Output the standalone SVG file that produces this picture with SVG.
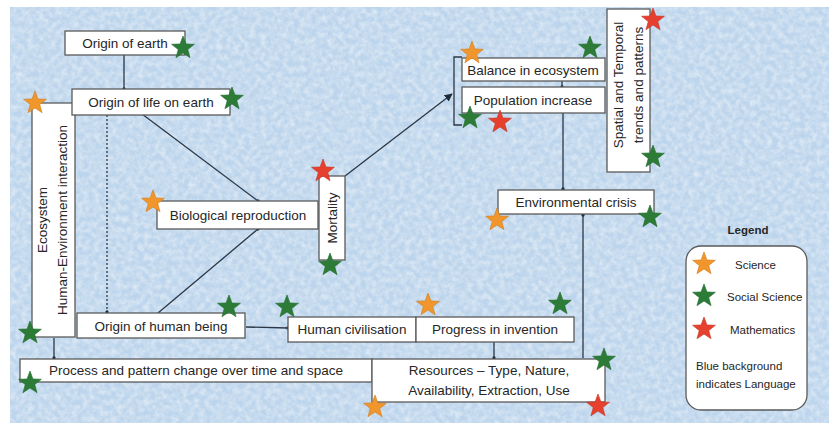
<svg xmlns="http://www.w3.org/2000/svg" width="829" height="429" viewBox="0 0 829 429">
<style>
.box{fill:#ffffff;stroke:#5a5a5a;stroke-width:1.3}
.t{font-family:"Liberation Sans",Arial,sans-serif;font-size:13.5px;fill:#262626;text-anchor:middle}
.lg{font-family:"Liberation Sans",Arial,sans-serif;font-size:11.5px;fill:#262626}
.c{fill:none;stroke:#2b3746;stroke-width:1.3}
.so{fill:#f0962c;stroke:#d27a18;stroke-width:0.6}
.sg{fill:#2c7c38;stroke:#1f6a2b;stroke-width:0.6}
.sr{fill:#e6412e;stroke:#c53020;stroke-width:0.6}
</style>
<defs>
<path id="star" d="M0,-12 L2.94,-4.05 L11.41,-3.71 L4.76,1.55 L7.05,9.71 L0,5 L-7.05,9.71 L-4.76,1.55 L-11.41,-3.71 L-2.94,-4.05 Z"/>
<marker id="dot" viewBox="-3 -3 6 6" markerWidth="4" markerHeight="4" refX="0" refY="0" markerUnits="userSpaceOnUse" orient="auto"><circle r="2.5" fill="#1e2a38"/></marker>
<marker id="arr" viewBox="0 0 10 10" refX="9" refY="5" markerWidth="8" markerHeight="8" markerUnits="userSpaceOnUse" orient="auto"><path d="M0,0 L10,5 L0,10 Z" fill="#1e2a38"/></marker>
<filter id="tex" x="0" y="0" width="100%" height="100%">
<feTurbulence type="fractalNoise" baseFrequency="0.18" numOctaves="3" seed="7"/>
<feColorMatrix type="matrix" values="0 0 0 0 1  0 0 0 0 1  0 0 0 0 1  0.9 0 0 0 -0.3"/>
</filter>
</defs>
<rect x="0" y="0" width="829" height="429" fill="#ffffff"/>
<rect x="10" y="7" width="819" height="416" fill="#bdd5ec"/>
<rect x="10" y="7" width="819" height="416" filter="url(#tex)"/>

<g id="connectors">
<line class="c" x1="124" y1="55" x2="124" y2="89" marker-end="url(#dot)"/>
<line class="c" x1="107" y1="115" x2="107" y2="312" stroke-dasharray="2 2" marker-end="url(#dot)"/>
<line class="c" x1="142" y1="114" x2="258" y2="201" marker-end="url(#dot)"/>
<line class="c" x1="158" y1="313" x2="258" y2="229" marker-end="url(#dot)"/>
<line class="c" x1="246" y1="327" x2="288" y2="328" marker-end="url(#dot)"/>
<line class="c" x1="494" y1="342" x2="494" y2="358" marker-end="url(#dot)"/>
<line class="c" x1="54" y1="338" x2="54" y2="358" marker-end="url(#dot)"/>
<line class="c" x1="583" y1="358" x2="583" y2="215" marker-end="url(#dot)"/>
<line class="c" x1="563" y1="113" x2="563" y2="189" marker-end="url(#dot)"/>
<line class="c" x1="562" y1="81" x2="562" y2="87" marker-end="url(#dot)"/>
<line class="c" x1="345" y1="176" x2="452" y2="94" marker-end="url(#arr)"/>
<path class="c" d="M462,57 H454 V125 H462"/>
</g>

<g id="vertical-ecosystem">
<rect class="box" x="32" y="103" width="43" height="234"/>
<text class="t" transform="translate(47,220) rotate(-90)">Ecosystem</text>
<text class="t" transform="translate(67,220) rotate(-90)">Human-Environment interaction</text>
</g>
<g id="origin-earth">
<rect class="box" x="65" y="31" width="120" height="24"/>
<text class="t" x="125" y="48">Origin of earth</text>
</g>
<g id="origin-life">
<rect class="box" x="72" y="89" width="158" height="26"/>
<text class="t" x="151" y="107">Origin of life on earth</text>
</g>
<g id="bio-reproduction">
<rect class="box" x="157" y="201" width="161" height="28"/>
<text class="t" x="238" y="220">Biological reproduction</text>
</g>
<g id="mortality">
<rect class="box" x="319" y="176" width="26" height="84"/>
<text class="t" transform="translate(337,218) rotate(-90)">Mortality</text>
</g>
<g id="balance">
<rect class="box" x="462" y="58" width="143" height="23"/>
<text class="t" x="533" y="75">Balance in ecosystem</text>
</g>
<g id="population">
<rect class="box" x="462" y="87" width="143" height="26"/>
<text class="t" x="533" y="105">Population increase</text>
</g>
<g id="spatial">
<rect class="box" x="607" y="9" width="43" height="163"/>
<text class="t" font-size="12.5" transform="translate(623,85) rotate(-90)">Spatial and Temporal</text>
<text class="t" font-size="12.5" transform="translate(643,85) rotate(-90)">trends and patterns</text>
</g>
<g id="env-crisis">
<rect class="box" x="498" y="190" width="156" height="24"/>
<text class="t" x="576" y="207">Environmental crisis</text>
</g>
<g id="origin-human">
<rect class="box" x="77" y="313" width="168" height="25"/>
<text class="t" x="161" y="331">Origin of human being</text>
</g>
<g id="human-civ">
<rect class="box" x="288" y="317" width="128" height="25"/>
<text class="t" x="352" y="334">Human civilisation</text>
</g>
<g id="progress">
<rect class="box" x="416" y="317" width="158" height="25"/>
<text class="t" x="495" y="334">Progress in invention</text>
</g>
<g id="process">
<rect class="box" x="20" y="359" width="352" height="23"/>
<text class="t" x="196" y="375">Process and pattern change over time and space</text>
</g>
<g id="resources">
<rect class="box" x="372" y="359" width="233" height="43"/>
<text class="t" x="489" y="375">Resources – Type, Nature,</text>
<text class="t" x="489" y="395">Availability, Extraction, Use</text>
</g>

<g id="stars">
<use href="#star" class="sg" x="183" y="48"/>
<use href="#star" class="sg" x="232" y="99"/>
<use href="#star" class="so" x="35" y="103"/>
<use href="#star" class="sg" x="30" y="333"/>
<use href="#star" class="so" x="153" y="202"/>
<use href="#star" class="sr" x="323" y="171"/>
<use href="#star" class="sg" x="330" y="265"/>
<use href="#star" class="so" x="472" y="53"/>
<use href="#star" class="sg" x="590" y="48"/>
<use href="#star" class="sg" x="470" y="118"/>
<use href="#star" class="sr" x="500" y="122"/>
<use href="#star" class="sr" x="653" y="20"/>
<use href="#star" class="sg" x="653" y="157"/>
<use href="#star" class="so" x="497" y="220"/>
<use href="#star" class="sg" x="650" y="217"/>
<use href="#star" class="sg" x="229" y="307"/>
<use href="#star" class="sg" x="287" y="307"/>
<use href="#star" class="so" x="428" y="305"/>
<use href="#star" class="sg" x="560" y="304"/>
<use href="#star" class="sg" x="30" y="383"/>
<use href="#star" class="sg" x="604" y="360"/>
<use href="#star" class="so" x="375" y="407"/>
<use href="#star" class="sr" x="598" y="406"/>
</g>

<g id="legend">
<text class="lg" x="748" y="234" text-anchor="middle" font-weight="bold" font-size="12" fill="#1c2633">Legend</text>
<rect x="686" y="246" width="121" height="164" rx="15" fill="#ffffff" stroke="#5a5a5a" stroke-width="1.3"/>
<use href="#star" class="so" x="704" y="264"/>
<text class="lg" x="735" y="269">Science</text>
<use href="#star" class="sg" x="704" y="296"/>
<text class="lg" x="727" y="301">Social Science</text>
<use href="#star" class="sr" x="704" y="329"/>
<text class="lg" x="730" y="334">Mathematics</text>
<text class="lg" x="696" y="370">Blue background</text>
<text class="lg" x="696" y="388">indicates Language</text>
</g>
</svg>
